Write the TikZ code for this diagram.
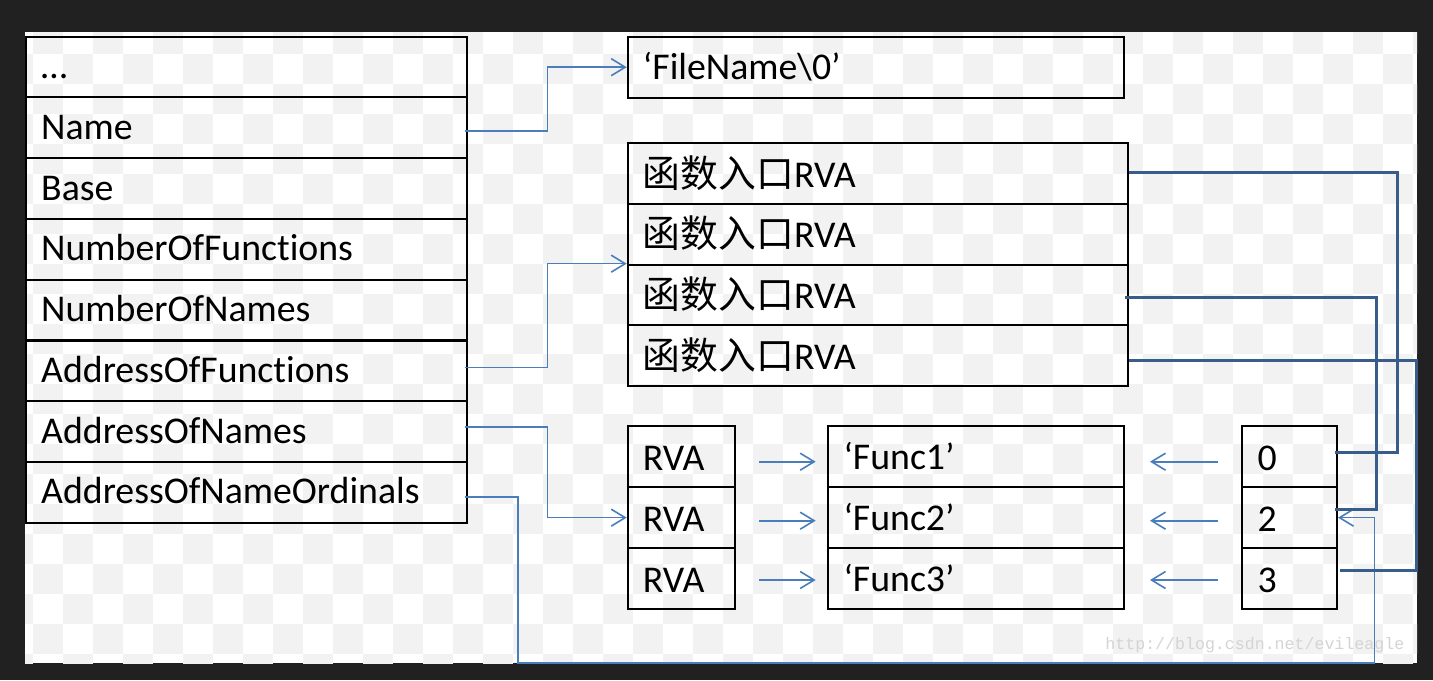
\documentclass[tikz,border=0pt]{standalone}
\usepackage{fontspec}
\setmainfont{Carlito}[Ligatures={NoCommon,NoContextual,NoRequired}]
\newfontfamily\cjkfont{Noto Sans CJK SC}
\newfontfamily\wmfont{Liberation Mono}
\usetikzlibrary{arrows.meta,calc}
\definecolor{darkbg}{HTML}{212121}
\definecolor{cbgray}{HTML}{F2F2F2}
\definecolor{thinblue}{HTML}{4A7EBB}
\definecolor{thickblue}{HTML}{385D8A}
\definecolor{wmgray}{HTML}{D4D4D4}
\tikzset{
  cell/.style={draw=black, line width=1pt, rectangle, inner xsep=7.6pt, inner ysep=0pt,
    align=left, text height=14pt, font=\fontsize{18.9}{22}\selectfont},
  ltab/.style={cell, text width=205.15pt, minimum height=30.375pt, text depth=2.5pt},
  ftab/.style={cell, text width=232.95pt, minimum height=30.5pt, text depth=2pt},
  etab/.style={cell, text width=234.8pt, minimum height=30.34pt, text depth=0.6pt},
  rtab/.style={cell, text width=38.3pt, minimum height=30.55pt, text depth=0.5pt},
  stab/.style={cell, text width=132.65pt, minimum height=30.55pt, text depth=1pt},
  otab/.style={cell, text width=32.15pt, minimum height=30.55pt, text depth=0.2pt},
  thinline/.style={draw=thinblue, line width=0.8pt},
  thinarrow/.style={thinline, -{Straight Barb[length=7pt,width=8.5pt,line width=0.8pt]}},
  thickline/.style={draw=thickblue, line width=1.5pt},
}
\begin{document}
\begin{tikzpicture}[x=0.5pt,y=-0.5pt]
% background and transparency checkerboard
\fill[darkbg] (0,0) rectangle (1433,680);
\begin{scope}
  \clip (25,32) rectangle (1417,663);
  \fill[white] (25,32) rectangle (1417,663);
  \foreach \i in {0,...,47}{
    \foreach \j in {0,...,21}{
      \pgfmathtruncatemacro\cbpar{mod(\i+\j,2)}
      \ifnum\cbpar=1 \fill[cbgray] ({3+30*\i},{24+30*\j}) rectangle ++(30,30);\fi
    }
  }
\end{scope}

% watermark
\node[anchor=base west, inner sep=0pt, text=wmgray, font=\wmfont\fontsize{8.3}{10}\selectfont]
  (wm) at (1105,649.3) {http://blog.csdn.net/evileagle};

% left table
\node[ltab] (dots) at (246.35,67.1)  {…};
\node[ltab] (name) at (246.35,127.8) {Name};
\node[ltab] (base) at (246.35,188.6) {Base};
\node[ltab] (nof)  at (246.35,249.3) {NumberOfFunctions};
\node[ltab] (non)  at (246.35,310.1) {NumberOfNames};
\node[ltab] (aof)  at (246.35,370.9) {AddressOfFunctions};
\node[ltab] (aon)  at (246.35,431.6) {AddressOfNames};
\node[ltab] (aono) at (246.35,492.3) {AddressOfNameOrdinals};

% file name
\node[ftab] (file) at (875.9,67.2) {‘FileName\textbackslash0’};

% function entry table
\node[etab] (fn1) at (877.7,173.6) {{\cjkfont 函数入口}RVA};
\node[etab] (fn2) at (877.7,234.3) {{\cjkfont 函数入口}RVA};
\node[etab] (fn3) at (877.7,295.0) {{\cjkfont 函数入口}RVA};
\node[etab] (fn4) at (877.7,355.7) {{\cjkfont 函数入口}RVA};

% names RVA table
\node[rtab] (rva1) at (681.2,456.55) {RVA};
\node[rtab] (rva2) at (681.2,517.65) {RVA};
\node[rtab] (rva3) at (681.2,578.75) {RVA};

% strings
\node[stab] (str1) at (976.15,456.55) {‘Func1’};
\node[stab] (str2) at (976.15,517.65) {‘Func2’};
\node[stab] (str3) at (976.15,578.75) {‘Func3’};

% ordinals
\node[otab] (ord1) at (1289.65,456.55) {0};
\node[otab] (ord2) at (1289.65,517.65) {2};
\node[otab] (ord3) at (1289.65,578.75) {3};

% thin connectors from the left table
\draw[thinarrow] ($(name.east)+(-3,2.9)$) -- ++(82.7,0) |- (file.west);
\draw[thinarrow] ($(aof.east)+(-3,-3.6)$) -- ++(82.7,0) |- (fn3.north west);
\draw[thinarrow] ($(aon.east)+(-3,-4.9)$) -- ++(82.7,0) |- (rva2.west);
\coordinate (lowL) at (517.7,662.7);
\coordinate (lowR) at (1374.3,662.7);
\draw[thinarrow] ($(aono.east)+(-3,4.7)$) -| (lowL) -- (lowR) |- (ord2.east);

% RVA -> strings
\draw[thinarrow] ($(rva1.east)+(23.6,5.15)$) -- ($(str1.west)+(-11.6,5.15)$);
\draw[thinarrow] ($(rva2.east)+(23.6,3.05)$) -- ($(str2.west)+(-11.6,3.05)$);
\draw[thinarrow] ($(rva3.east)+(23.6,1.25)$) -- ($(str3.west)+(-11.6,1.25)$);

% ordinals -> strings
\draw[thinarrow] ($(ord1.west)+(-23.3,5.15)$) -- ($(str1.east)+(25,5.15)$);
\draw[thinarrow] ($(ord2.west)+(-23.3,3.05)$) -- ($(str2.east)+(25,3.05)$);
\draw[thinarrow] ($(ord3.west)+(-23.3,1.25)$) -- ($(str3.east)+(25,1.25)$);

% thick connectors: ordinal -> function entry
\draw[thickline] ($(fn1.east)+(0,-0.9)$) -- ++(269,0) |- ($(ord1.east)+(-2.7,-3.85)$);
\draw[thickline] ($(fn3.east)+(-3.4,2.7)$) -- ++(250.7,0) |- ($(ord2.east)+(-3,-8.65)$);
\draw[thickline] ($(fn4.east)+(0,5)$) -- ++(287.3,0) |- ($(ord3.east)+(2.3,-8)$);
\end{tikzpicture}
\end{document}
